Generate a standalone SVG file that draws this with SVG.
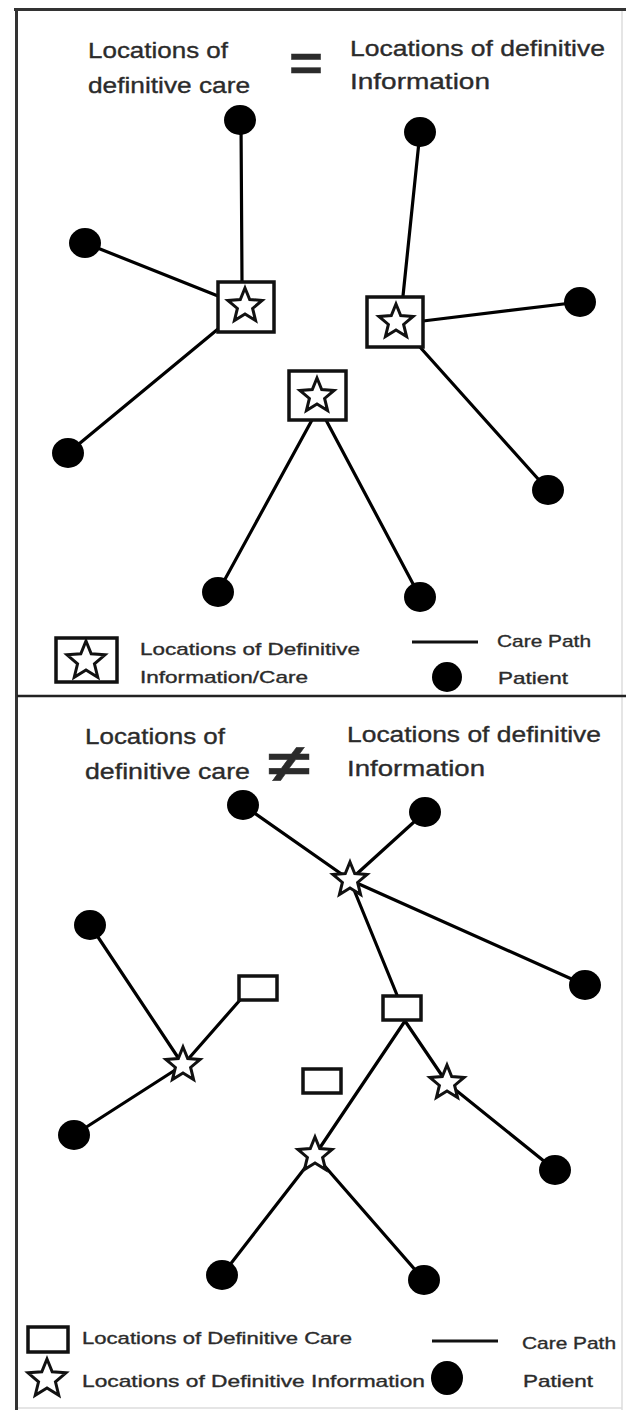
<svg xmlns="http://www.w3.org/2000/svg" xmlns:xlink="http://www.w3.org/1999/xlink" width="626" height="1410" viewBox="0 0 626 1410">
<style>
.t{font-family:"Liberation Sans","DejaVu Sans",sans-serif;fill:#2b2b2b;stroke:#2b2b2b;stroke-width:0.35}
.h{font-size:22px}
.l{font-size:17px}
.p{fill:#000}
.e{stroke:#000;stroke-width:3.2;fill:none;stroke-linecap:round}
.b{fill:#fff;stroke:#111;stroke-width:3.5}
.s{fill:#fff;stroke:#111;stroke-width:3;stroke-linejoin:miter}
</style>
<defs>
<path id="star" d="M0,-18 L4.7,-6.47 L17.12,-5.56 L7.61,2.47 L10.58,14.56 L0,8 L-10.58,14.56 L-7.61,2.47 L-17.12,-5.56 L-4.7,-6.47 Z"/>
<path id="starL" d="M0,-20 L5.2,-7.2 L19,-6.2 L8.45,2.75 L11.75,16.2 L0,8.9 L-11.75,16.2 L-8.45,2.75 L-19,-6.2 L-5.2,-7.2 Z"/>
</defs>
<rect width="626" height="1410" fill="#fff"/>
<g id="frame">
<line x1="14" y1="9.5" x2="626" y2="9.5" stroke="#333" stroke-width="3"/>
<line x1="16.5" y1="8" x2="16.5" y2="1410" stroke="#333" stroke-width="3"/>
<line x1="622" y1="11" x2="622" y2="1410" stroke="#ddd" stroke-width="1.5"/>
<line x1="18" y1="1408" x2="622" y2="1408" stroke="#ddd" stroke-width="1.5"/>
<line x1="17" y1="696" x2="626" y2="696" stroke="#222" stroke-width="2.5"/>
</g>
<g id="connectors-top">
<line class="e" x1="241" y1="120" x2="242" y2="281"/>
<line class="e" x1="85" y1="243" x2="218" y2="296"/>
<line class="e" x1="68" y1="453" x2="218" y2="329"/>
<line class="e" x1="420" y1="132" x2="403" y2="296"/>
<line class="e" x1="580" y1="302" x2="423" y2="321"/>
<line class="e" x1="548" y1="490" x2="419" y2="346"/>
<line class="e" x1="218" y1="592" x2="312" y2="420"/>
<line class="e" x1="420" y1="597" x2="326" y2="420"/>
</g>
<g id="connectors-bottom">
<line class="e" x1="243" y1="805" x2="350" y2="880"/>
<line class="e" x1="350" y1="880" x2="397" y2="995"/>
<line class="e" x1="425" y1="812" x2="350" y2="880"/>
<line class="e" x1="350" y1="880" x2="585" y2="985"/>
<line class="e" x1="90" y1="925" x2="183" y2="1065"/>
<line class="e" x1="183" y1="1065" x2="240" y2="1000"/>
<line class="e" x1="74" y1="1135" x2="183" y2="1065"/>
<line class="e" x1="405" y1="1021" x2="315" y2="1155"/>
<line class="e" x1="405" y1="1021" x2="447" y2="1083"/>
<line class="e" x1="447" y1="1083" x2="555" y2="1170"/>
<line class="e" x1="315" y1="1155" x2="222" y2="1275"/>
<line class="e" x1="315" y1="1155" x2="424" y2="1280"/>
</g>
<g id="title-top">
<text class="t h" x="88" y="58" textLength="140" lengthAdjust="spacingAndGlyphs">Locations of</text>
<text class="t h" x="88" y="93" textLength="162" lengthAdjust="spacingAndGlyphs">definitive care</text>
<text class="t" x="289" y="81" font-size="50" font-weight="bold" fill="#111" textLength="34" lengthAdjust="spacingAndGlyphs">=</text>
<text class="t h" x="350" y="56" textLength="255" lengthAdjust="spacingAndGlyphs">Locations of definitive</text>
<text class="t h" x="350" y="89" textLength="140" lengthAdjust="spacingAndGlyphs">Information</text>
</g>
<g id="patients-top">
<ellipse id="p1" class="p" cx="240" cy="120" rx="16" ry="15"/>
<ellipse id="p2" class="p" cx="85" cy="243" rx="16" ry="15"/>
<ellipse id="p3" class="p" cx="68" cy="453" rx="16" ry="15"/>
<ellipse id="p4" class="p" cx="420" cy="132" rx="16" ry="15"/>
<ellipse id="p5" class="p" cx="580" cy="302" rx="16" ry="15"/>
<ellipse id="p6" class="p" cx="548" cy="490" rx="16" ry="15"/>
<ellipse id="p7" class="p" cx="218" cy="592" rx="16" ry="15"/>
<ellipse id="p8" class="p" cx="420" cy="597" rx="16" ry="15"/>
</g>
<g id="site-a"><rect class="b" x="218" y="282" width="56" height="50"/><use href="#star" class="s" x="245" y="306"/></g>
<g id="site-b"><rect class="b" x="367" y="297" width="56" height="50"/><use href="#star" class="s" x="396" y="322"/></g>
<g id="site-c"><rect class="b" x="289" y="371" width="57" height="49"/><use href="#star" class="s" x="317" y="396"/></g>
<g id="legend-top">
<rect class="b" x="56" y="638" width="61" height="44"/>
<use href="#starL" class="s" x="86" y="661"/>
<text class="t l" x="140" y="655" textLength="220" lengthAdjust="spacingAndGlyphs">Locations of Definitive</text>
<text class="t l" x="140" y="683" textLength="168" lengthAdjust="spacingAndGlyphs">Information/Care</text>
<line x1="412" y1="642" x2="478" y2="642" stroke="#111" stroke-width="3"/>
<text class="t l" x="497" y="647" textLength="94" lengthAdjust="spacingAndGlyphs">Care Path</text>
<ellipse class="p" cx="447" cy="677" rx="15" ry="15"/>
<text class="t l" x="498" y="684" textLength="70" lengthAdjust="spacingAndGlyphs">Patient</text>
</g>
<g id="title-bottom">
<text class="t h" x="85" y="744" textLength="140" lengthAdjust="spacingAndGlyphs">Locations of</text>
<text class="t h" x="85" y="779" textLength="165" lengthAdjust="spacingAndGlyphs">definitive care</text>
<text class="t" x="268" y="782" font-size="54" font-weight="bold" fill="#111" textLength="42" lengthAdjust="spacingAndGlyphs">≠</text>
<text class="t h" x="347" y="742" textLength="254" lengthAdjust="spacingAndGlyphs">Locations of definitive</text>
<text class="t h" x="347" y="776" textLength="138" lengthAdjust="spacingAndGlyphs">Information</text>
</g>
<g id="patients-bottom">
<ellipse id="q1" class="p" cx="243" cy="805" rx="16" ry="15"/>
<ellipse id="q2" class="p" cx="425" cy="812" rx="16" ry="15"/>
<ellipse id="q3" class="p" cx="90" cy="925" rx="16" ry="15"/>
<ellipse id="q4" class="p" cx="585" cy="985" rx="16" ry="15"/>
<ellipse id="q5" class="p" cx="74" cy="1135" rx="16" ry="15"/>
<ellipse id="q6" class="p" cx="555" cy="1170" rx="16" ry="15"/>
<ellipse id="q7" class="p" cx="222" cy="1275" rx="16" ry="15"/>
<ellipse id="q8" class="p" cx="424" cy="1280" rx="16" ry="15"/>
</g>
<g id="care-sites">
<rect id="r1" class="b" x="239" y="976" width="38" height="24" stroke-width="3"/>
<rect id="r2" class="b" x="383" y="996" width="38" height="24" stroke-width="3"/>
<rect id="r3" class="b" x="303" y="1069" width="38" height="24" stroke-width="3"/>
</g>
<g id="info-sites">
<use id="s1" href="#star" class="s" x="350" y="880"/>
<use id="s2" href="#star" class="s" x="183" y="1065"/>
<use id="s3" href="#star" class="s" x="447" y="1083"/>
<use id="s4" href="#star" class="s" x="315" y="1155"/>
</g>
<g id="legend-bottom">
<rect class="b" x="28" y="1327" width="40" height="25" stroke-width="3"/>
<use href="#starL" class="s" x="47" y="1379"/>
<text class="t l" x="82" y="1344" textLength="270" lengthAdjust="spacingAndGlyphs">Locations of Definitive Care</text>
<text class="t l" x="82" y="1387" textLength="343" lengthAdjust="spacingAndGlyphs">Locations of Definitive Information</text>
<line x1="432" y1="1341" x2="498" y2="1341" stroke="#111" stroke-width="3"/>
<text class="t l" x="522" y="1349" textLength="94" lengthAdjust="spacingAndGlyphs">Care Path</text>
<ellipse class="p" cx="447" cy="1378" rx="16" ry="17"/>
<text class="t l" x="523" y="1387" textLength="70" lengthAdjust="spacingAndGlyphs">Patient</text>
</g>
</svg>
